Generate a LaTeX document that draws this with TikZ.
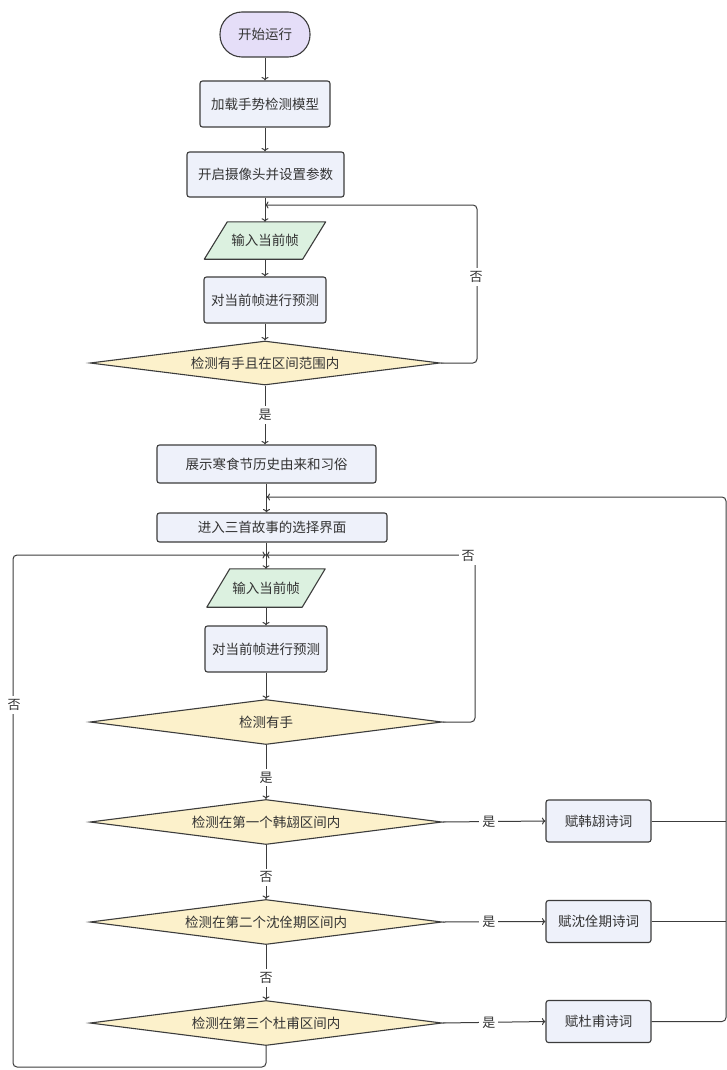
\documentclass[tikz,border=0pt]{standalone}
\usepackage{fontspec}
\newfontfamily\cjk{Noto Sans CJK SC}
\usetikzlibrary{shapes.geometric,arrows.meta,calc}
\pgfdeclarelayer{back}
\pgfdeclarelayer{bg}
\pgfsetlayers{back,bg,main}
\definecolor{linec}{HTML}{3C3C3C}
\definecolor{txtc}{HTML}{333333}
\definecolor{procfill}{HTML}{EEF1FA}
\definecolor{termfill}{HTML}{E5DEF8}
\definecolor{iofill}{HTML}{DCF1E0}
\definecolor{decfill}{HTML}{FCF1CB}
\tikzset{
  base/.style={font=\cjk\fontsize{13.5}{16}\selectfont, text=txtc, inner sep=0pt},
  proc/.style={base, draw=linec, fill=procfill, line width=1.1pt, rounded corners=2.5pt},
  term/.style={base, draw=linec, fill=termfill, line width=1.1pt, rounded corners=22pt},
  dec/.style={base, diamond, aspect=7.8, draw=linec, fill=decfill, line width=1.1pt},
  iobox/.style={draw=linec, fill=iofill, line width=1.1pt, line join=round},
  conn/.style={draw=linec, line width=1pt},
  ar/.style={conn, -{To[length=3.5pt,width=7pt]}},
  lbl/.style={base, fill=white, inner sep=3pt, font=\cjk\fontsize{13}{15}\selectfont}
}
\begin{document}
\begin{tikzpicture}[x=1pt,y=-1pt]
\useasboundingbox (0,0) rectangle (726,1070);
\begin{pgfonlayer}{back}
\fill[white] (0,0) rectangle (726,1070);
\end{pgfonlayer}

% upper column
\node[term, minimum width=90, minimum height=45] (start) at (265,34.5) {开始运行};
\node[proc, minimum width=130, minimum height=46] (box1) at (265,104) {加载手势检测模型};
\node[proc, minimum width=157, minimum height=45] (box2) at (265.5,174.5) {开启摄像头并设置参数};
\node[base, minimum width=98, minimum height=37] (io1) at (265,240.5) {输入当前帧};
\node[proc, minimum width=122, minimum height=46] (box3) at (265,300) {对当前帧进行预测};
\node[dec, minimum width=350, minimum height=44] (dia1) at (265,363) {检测有手且在区间范围内};

% lower column
\node[proc, minimum width=219, minimum height=38] (box4) at (266.5,464) {展示寒食节历史由来和习俗};
\node[proc, minimum width=230, minimum height=29] (box5) at (272,527.5) {进入三首故事的选择界面};
\node[base, minimum width=95, minimum height=38] (io2) at (266,588) {输入当前帧};
\node[proc, minimum width=122, minimum height=46] (box6) at (266,649) {对当前帧进行预测};
\node[dec, minimum width=352, minimum height=45] (dia2) at (266,722) {检测有手};
\node[dec, minimum width=352, minimum height=45] (dia3) at (266,822) {检测在第一个韩翃区间内};
\node[dec, minimum width=352, minimum height=45] (dia4) at (266,922) {检测在第二个沈佺期区间内};
\node[dec, minimum width=352, minimum height=45] (dia5) at (266,1023) {检测在第三个杜甫区间内};

% poem boxes
\node[proc, minimum width=105, minimum height=42] (poem1) at (598.5,821) {赋韩翃诗词};
\node[proc, minimum width=105, minimum height=42] (poem2) at (598.5,921.5) {赋沈佺期诗词};
\node[proc, minimum width=105, minimum height=42] (poem3) at (598.5,1021.5) {赋杜甫诗词};

% parallelogram outlines
\begin{pgfonlayer}{bg}
\draw[iobox] ([xshift=-11.5pt]io1.south west) -- ([xshift=-11.5pt]io1.south east)
  -- ([xshift=11.5pt]io1.north east) -- ([xshift=11.5pt]io1.north west) -- cycle;
\draw[iobox] ([xshift=-11.5pt]io2.south west) -- ([xshift=-11.5pt]io2.south east)
  -- ([xshift=11.5pt]io2.north east) -- ([xshift=11.5pt]io2.north west) -- cycle;
\end{pgfonlayer}

% junction coordinates
\coordinate (j1) at (265,205);
\coordinate (r1) at (477,205);
\coordinate (j2) at (266.5,497);
\coordinate (r2) at (726,497);
\coordinate (j3) at (266,555);
\coordinate (r3) at (475,555);
\coordinate (l1) at (13,1067);

% main flow
\draw[ar] (start) -- (box1);
\draw[ar] (box1) -- (box2.north -| box1.south);
\draw[ar] (box2.south -| io1.north) -- (io1.north);
\draw[ar] (io1.south) -- (box3.north);
\draw[ar] (box3.south) -- (dia1.north);
\draw[ar] (dia1.south) -- node[lbl] {是} (dia1.south |- box4.north);
\draw[ar] (box4.south) -- (box4.south |- box5.north);
\draw[ar] (box5.south -| io2.north) -- (io2.north);
\draw[ar] (io2.south) -- (box6.north);
\draw[ar] (box6.south) -- (dia2.north);
\draw[ar] (dia2.south) -- node[lbl, pos=0.6] {是} (dia3.north);
\draw[ar] (dia3.south) -- node[lbl, pos=0.6] {否} (dia4.north);
\draw[ar] (dia4.south) -- node[lbl, pos=0.6] {否} (dia5.north);

% yes branches
\draw[ar] (dia3.east) -- node[lbl, pos=0.45] {是} (poem1.west);
\draw[ar] (dia4.east) -- node[lbl, pos=0.45] {是} (poem2.west);
\draw[ar] (dia5.east) -- node[lbl, pos=0.45] {是} (poem3.west);

% loop 1
\draw[ar, rounded corners=4pt] (dia1.east) -| (r1) -- (j1);
\node[lbl] (no1) at (476,277) {否};

% poem returns
\draw[conn] (poem1.east) -- (poem1.east -| r2);
\draw[conn] (poem2.east) -- (poem2.east -| r2);
\draw[ar, rounded corners=4pt] (poem3.east) -| (r2) -- (j2);

% loop right (no hand)
\draw[ar, rounded corners=4pt] (dia2.east) -| (r3) -- (j3);
\node[lbl] (no2) at (468,556) {否};

% loop left
\draw[ar, rounded corners=4pt] (dia5.south) |- (l1) |- (j3);
\node[lbl] (no3) at (14,705) {否};
\end{tikzpicture}
\end{document}
